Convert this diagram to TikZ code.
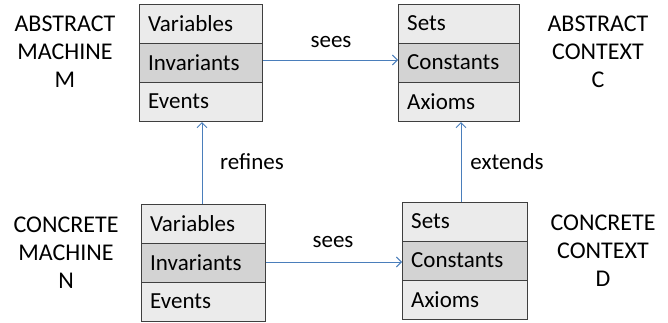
\documentclass[tikz,border=0pt]{standalone}
\usepackage{fontspec}
\setmainfont{Carlito}
\usetikzlibrary{arrows.meta}
\definecolor{rowlight}{HTML}{EBEBEB}
\definecolor{rowdark}{HTML}{D3D3D3}
\definecolor{edge}{HTML}{3F3F3F}
\definecolor{link}{HTML}{4A7EBB}
\begin{document}
\begin{tikzpicture}[x=1pt,y=-1pt,
  cell/.style={draw=edge,line width=1.1pt,fill=rowlight,minimum width=123pt,minimum height=39pt,inner sep=0pt,anchor=north west},
  celldark/.style={cell,fill=rowdark},
  sidecap/.style={font=\fontsize{24}{28}\selectfont,align=center},
  lbl/.style={font=\fontsize{23}{25}\selectfont,inner sep=0pt},
  conn/.style={draw=link,line width=0.9pt,-{Straight Barb[length=5pt,width=10pt,line width=0.9pt]}}]
\useasboundingbox (0,0) rectangle (668,323);
% abstract machine
\node[cell] (amv) at (139,4) {};
\node[celldark] (ami) at (139,43) {};
\node[cell] (ame) at (139,82) {};
\node[lbl,anchor=west] at (148,23.5) {Variables};
\node[lbl,anchor=west] at (148,62.5) {Invariants};
\node[lbl,anchor=west] at (148,101.5) {Events};
% abstract context
\node[cell,minimum width=121pt] (acs) at (398,4) {};
\node[celldark,minimum width=121pt] (acc) at (398,43) {};
\node[cell,minimum width=121pt] (aca) at (398,82) {};
\node[lbl,anchor=west] at (407,23.5) {Sets};
\node[lbl,anchor=west] at (407,62.5) {Constants};
\node[lbl,anchor=west] at (407,101.5) {Axioms};
% concrete machine
\node[cell,minimum width=124pt] (cmv) at (141,204) {};
\node[celldark,minimum width=124pt] (cmi) at (141,243) {};
\node[cell,minimum width=124pt] (cme) at (141,282) {};
\node[lbl,anchor=west] at (150,223.5) {Variables};
\node[lbl,anchor=west] at (150,262.5) {Invariants};
\node[lbl,anchor=west] at (150,301.5) {Events};
% concrete context
\node[cell,minimum width=125pt] (ccs) at (402,202) {};
\node[celldark,minimum width=125pt] (ccc) at (402,241) {};
\node[cell,minimum width=125pt] (cca) at (402,280) {};
\node[lbl,anchor=west] at (411,221.5) {Sets};
\node[lbl,anchor=west] at (411,260.5) {Constants};
\node[lbl,anchor=west] at (411,299.5) {Axioms};
% side captions
\node[sidecap] (capam) at (65,52) {ABSTRACT\\MACHINE\\M};
\node[sidecap] (capac) at (598,52) {ABSTRACT\\CONTEXT\\C};
\node[sidecap] (capcm) at (66,253) {CONCRETE\\MACHINE\\N};
\node[sidecap] (capcc) at (603,251) {CONCRETE\\CONTEXT\\D};
% connectors
\coordinate (s1a) at (ami.east |- 0,60);
\coordinate (s1b) at (acc.west |- 0,60);
\draw[conn] (s1a) -- (s1b);
\node[lbl] (sees1) at (331,42) {sees};
\coordinate (s2a) at (cmi.east |- 0,262);
\coordinate (s2b) at (ccc.west |- 0,262);
\draw[conn] (s2a) -- (s2b);
\node[lbl] (sees2) at (333,242) {sees};
\coordinate (r1a) at (cmv.north -| 202,0);
\coordinate (r1b) at (ame.south -| 202,0);
\draw[conn] (r1a) -- (r1b);
\node[lbl] (refl) at (252,162) {refines};
\coordinate (e1a) at (ccs.north -| 461,0);
\coordinate (e1b) at (aca.south -| 461,0);
\draw[conn] (e1a) -- (e1b);
\node[lbl] (extl) at (507,162) {extends};
\end{tikzpicture}
\end{document}
